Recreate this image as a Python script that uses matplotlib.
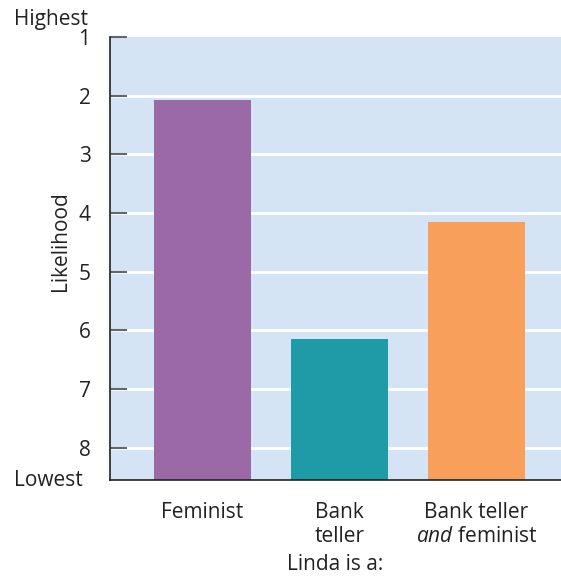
import matplotlib
matplotlib.use("Agg")
import matplotlib.pyplot as plt

categories = ["Feminist", "Bank\nteller", "Bank teller\n$\\it{and}$ feminist"]
values = [2.07, 6.15, 4.16]
colors = ["#9A69A6", "#1E9BA7", "#F8A05B"]
yticks = [1, 2, 3, 4, 5, 6, 7, 8]

plt.rcParams['font.family'] = ['Open Sans', 'DejaVu Sans']
plt.rcParams['mathtext.fontset'] = 'custom'
plt.rcParams['mathtext.it'] = 'Open Sans:italic'
plt.rcParams['mathtext.rm'] = 'Open Sans'

FS = 15
fig = plt.figure(figsize=(5.61, 5.76), dpi=100)
ax = fig.add_axes([110/561, 96/576, 451/561, 443/576])
ax.set_facecolor("#D4E4F4")

bottom = 8.55
x = list(range(len(categories)))
ax.bar(x, [v - bottom for v in values], bottom=bottom, width=0.708, color=colors, zorder=3)

ax.set_ylim(bottom, 1.0)
ax.set_xlim(-0.675, 2.617)
ax.set_yticks(yticks)
ax.set_yticklabels([str(t) for t in yticks], fontsize=FS, color="#222222")
for t in yticks[1:]:
    ax.axhline(t, color="white", lw=2, zorder=1)
ax.tick_params(axis='y', direction='in', length=12, width=1.5, color="#666666", pad=14)
ax.set_xticks(x)
ax.set_xticklabels(categories, fontsize=FS, color="#222222", linespacing=1.2)
ax.tick_params(axis='x', length=0, pad=16)
for s in ["top", "right"]:
    ax.spines[s].set_visible(False)
for s in ["left", "bottom"]:
    ax.spines[s].set_color("#222222")
    ax.spines[s].set_linewidth(1.2)
    ax.spines[s].set_zorder(4)

ax.set_xlabel("Linda is a:", fontsize=FS, color="#222222", labelpad=5)
ax.set_ylabel("Likelihood", fontsize=FS, color="#222222")
ax.yaxis.set_label_coords(-39/451, (480 - 241) / 443)
fig.text(14/561, 1 - 20/576, "Highest", fontsize=FS, color="#222222", va="center", ha="left")
fig.text(14/561, 1 - 481/576, "Lowest", fontsize=FS, color="#222222", va="center", ha="left")

fig.savefig("out.png", dpi=100)
